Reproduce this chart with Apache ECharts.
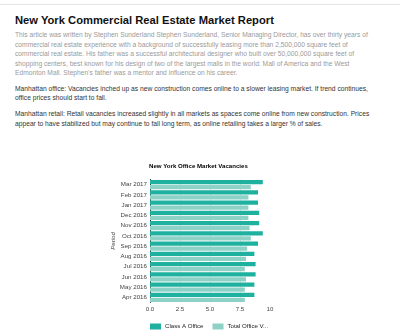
<!DOCTYPE html>
<html>
<head>
<meta charset="utf-8">
<title>New York Commercial Real Estate Market Report</title>
<script src="https://cdn.jsdelivr.net/npm/echarts@6/dist/echarts.min.js"></script>
<style>
  html, body { margin: 0; padding: 0; background: #fff; }
  body { width: 400px; height: 335px; position: relative; overflow: hidden;
         font-family: "Liberation Sans", Arial, sans-serif; }
  .rule { position: absolute; left: 0; top: 4px; width: 400px; height: 1px; background: #e6e6e6; }
  h1 { position: absolute; left: 15px; top: 13px; margin: 0; font-size: 11.2px; line-height: 14px;
       font-weight: bold; color: #111; white-space: nowrap; }
  .p { position: absolute; left: 15px; margin: 0; font-size: 6.7px; line-height: 9.5px; white-space: nowrap; }
  .intro { top: 30px; color: #9a9a9a; }
  .office { top: 83.5px; color: #333; }
  .retail { top: 109px; color: #333; }
  #chart { position: absolute; left: 0; top: 0; width: 400px; height: 335px; }
</style>
</head>
<body>
<div class="rule"></div>
<h1>New York Commercial Real Estate Market Report</h1>
<p class="p intro">This article was written by Stephen Sunderland Stephen Sunderland, Senior Managing Director, has over thirty years of<br>commercial real estate experience with a background of successfully leasing more than 2,500,000 square feet of<br>commercial real estate. His father was a successful architectural designer who built over 50,000,000 square feet of<br>shopping centers, best known for his design of two of the largest malls in the world: Mall of America and the West<br>Edmonton Mall. Stephen's father was a mentor and influence on his career.</p>
<p class="p office">Manhattan office: Vacancies inched up as new construction comes online to a slower leasing market. If trend continues,<br>office prices should start to fall.</p>
<p class="p retail">Manhattan retail: Retail vacancies increased slightly in all markets as spaces come online from new construction. Prices<br>appear to have stabilized but may continue to fall long term, as online retailing takes a larger % of sales.</p>
<div id="chart"></div>
<script>
// Monthly vacancy rates (%), oldest month first
const periods = ['Apr 2016', 'May 2016', 'Jun 2016', 'Jul 2016', 'Aug 2016', 'Sep 2016',
                 'Oct 2016', 'Nov 2016', 'Dec 2016', 'Jan 2017', 'Feb 2017', 'Mar 2017'];
const classAOffice = [8.7, 8.7, 8.8, 8.8, 8.7, 9.0, 9.4, 9.1, 9.1, 9.0, 9.0, 9.4];
const totalOffice  = [7.9, 7.9, 8.0, 7.9, 8.0, 8.1, 8.4, 8.3, 8.2, 8.2, 8.2, 8.4];
const xTickLabels = ['0.0', '2.5', '5.0', '7.5', '10'];

const FONT = '"Liberation Sans", Arial, sans-serif';
const chart = echarts.init(document.getElementById('chart'), null, { renderer: 'canvas' });

chart.setOption({
  animation: false,
  title: {
    text: 'New York Office Market Vacancies',
    left: 149, top: 163,
    padding: 0,
    textStyle: { fontFamily: FONT, fontSize: 6.1, fontWeight: 'bold', color: '#000', lineHeight: 7 }
  },
  legend: {
    left: 150, top: 323.5,
    padding: 0,
    itemWidth: 11, itemHeight: 6, itemGap: 9,
    icon: 'rect',
    textStyle: { fontFamily: FONT, fontSize: 6.1, color: '#222', padding: [0, 0, 0, -1] },
    formatter: name => name.length > 14 ? name.slice(0, 14) + '...' : name,
    data: ['Class A Office', 'Total Office Vacancies']
  },
  grid: { left: 150, top: 179.5, width: 120, height: 123, containLabel: false },
  xAxis: {
    type: 'value',
    min: 0, max: 10, interval: 2.5,
    axisLine: { show: false },
    axisTick: { show: false },
    splitLine: { show: true, showMinLine: false, showMaxLine: false, lineStyle: { color: '#e4e4e4', width: 1 } },
    axisLabel: {
      margin: 4, fontFamily: FONT, fontSize: 6.1, color: '#444',
      formatter: (v, i) => xTickLabels[i]
    }
  },
  yAxis: {
    type: 'category',
    data: periods,
    name: 'Period',
    nameLocation: 'middle',
    nameRotate: 90,
    nameGap: 30,
    nameTextStyle: { fontFamily: FONT, fontSize: 6.1, fontStyle: 'italic', color: '#444' },
    axisLine: { show: true, lineStyle: { color: '#333', width: 1 } },
    axisTick: { show: false },
    axisLabel: { margin: 3, fontFamily: FONT, fontSize: 6.2, color: '#444' }
  },
  series: [
    {
      name: 'Class A Office', type: 'bar', data: classAOffice,
      barWidth: 4.2, barGap: '20%',
      itemStyle: { color: '#1fb1a0' }
    },
    {
      name: 'Total Office Vacancies', type: 'bar', data: totalOffice,
      barWidth: 4.2,
      itemStyle: { color: '#8ed2c7' }
    }
  ]
});
</script>
</body>
</html>
